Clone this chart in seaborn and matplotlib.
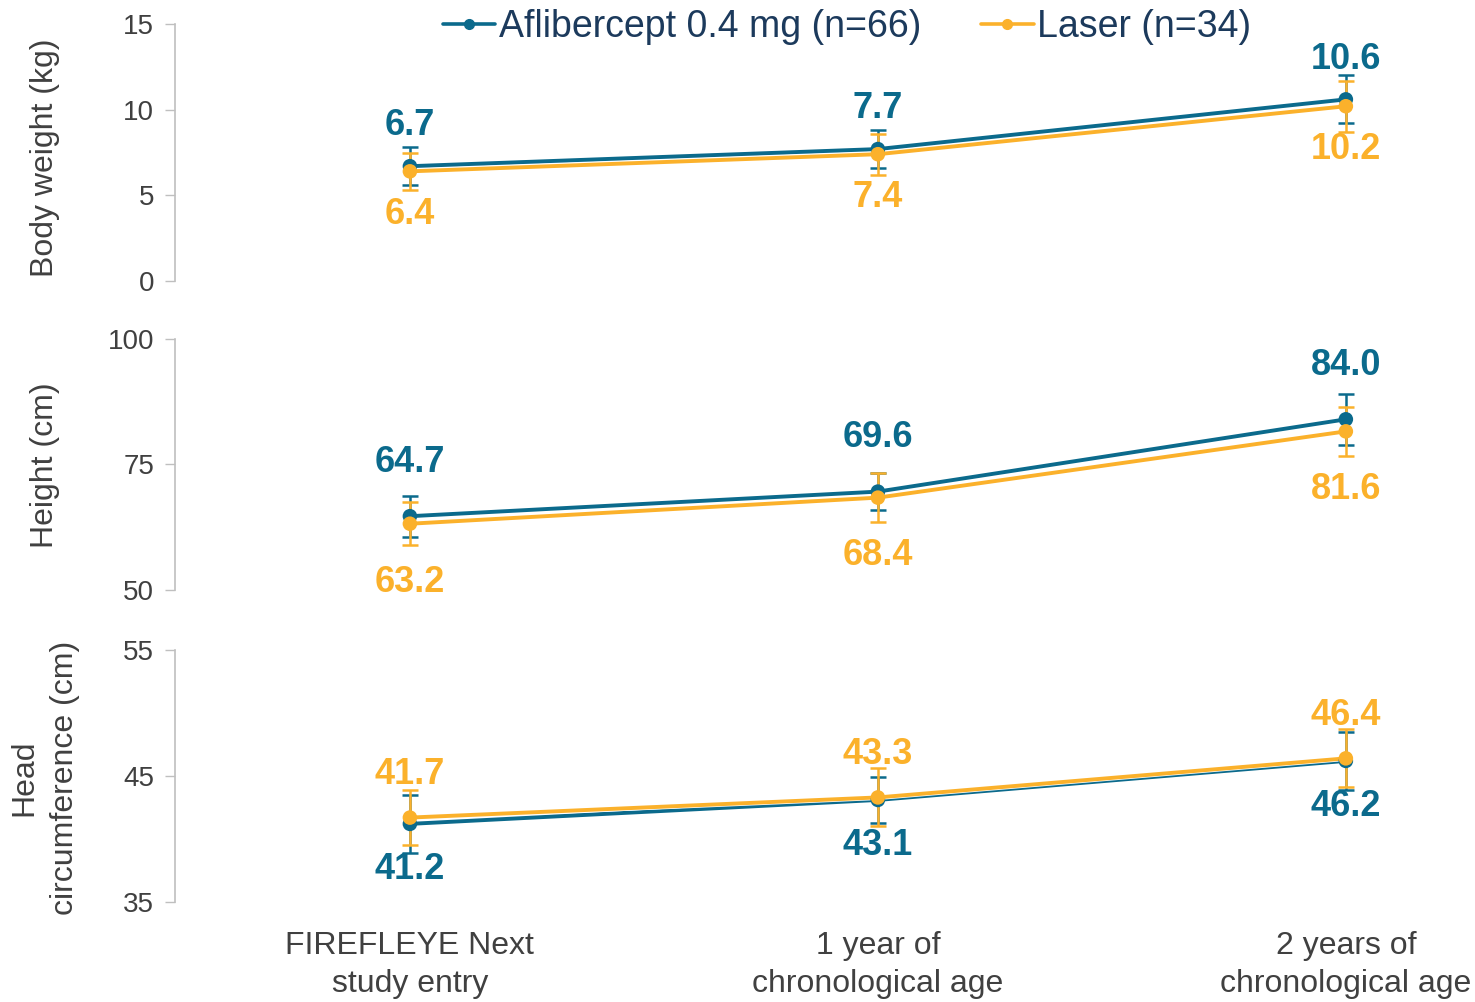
import matplotlib
matplotlib.use("Agg")
import matplotlib.pyplot as plt
import matplotlib.patheffects as pe
import seaborn as sns
import pandas as pd
import numpy as np

# Time points
timepoints = ["FIREFLEYE Next\nstudy entry", "1 year of\nchronological age", "2 years of\nchronological age"]
groups = ["Aflibercept 0.4 mg (n=66)", "Laser (n=34)"]

# Means and standard deviations per measure
weight_afl = [6.7, 7.7, 10.6]
weight_afl_sd = [1.1, 1.1, 1.4]
weight_laser = [6.4, 7.4, 10.2]
weight_laser_sd = [1.1, 1.2, 1.5]

height_afl = [64.7, 69.6, 84.0]
height_afl_sd = [4.1, 3.7, 5.1]
height_laser = [63.2, 68.4, 81.6]
height_laser_sd = [4.3, 4.9, 4.9]

head_afl = [41.2, 43.1, 46.2]
head_afl_sd = [2.3, 1.8, 2.3]
head_laser = [41.7, 43.3, 46.4]
head_laser_sd = [2.2, 2.3, 2.3]

ylabels = ["Body weight (kg)", "Height (cm)", "Head\ncircumference (cm)"]
yticks = [[0, 5, 10, 15], [50, 75, 100], [35, 45, 55]]

BLUE = "#0B6A8C"
ORANGE = "#FBB12B"
TEXT = "#404040"
LEGEND_TEXT = "#1C3A5C"

sns.set_theme(style="white")
plt.rcParams["font.family"] = ["Liberation Sans", "DejaVu Sans"]

fig = plt.figure(figsize=(14.75, 10.02), dpi=100)

left, width = 175 / 1475, 1300 / 1475
panel_boxes = [
    (1 - 281 / 1002, 257 / 1002),
    (1 - 590 / 1002, 251 / 1002),
    (1 - 902 / 1002, 252 / 1002),
]
label_y = [158, 465, 778]

measures = [
    (weight_afl, weight_afl_sd, weight_laser, weight_laser_sd),
    (height_afl, height_afl_sd, height_laser, height_laser_sd),
    (head_afl, head_afl_sd, head_laser, head_laser_sd),
]
# label offsets (points): (blue, orange); positive = above
offsets = [(29, -31), (39, -42), (-33, 31)]

x = np.arange(len(timepoints))
palette = {groups[0]: BLUE, groups[1]: ORANGE}
axes = []
for i, ((afl, afl_sd, las, las_sd), (b, h)) in enumerate(zip(measures, panel_boxes)):
    ax = fig.add_axes([left, b, width, h])
    axes.append(ax)
    df = pd.DataFrame({
        "x": np.concatenate([x, x]),
        "value": afl + las,
        "group": [groups[0]] * 3 + [groups[1]] * 3,
    })
    sns.lineplot(data=df, x="x", y="value", hue="group", palette=palette,
                 linewidth=2.8, legend=False, ax=ax, zorder=3)
    for line in ax.lines:
        line.set_path_effects([pe.Stroke(linewidth=3.8, foreground="white"), pe.Normal()])
    for vals, sds, col in [(afl, afl_sd, BLUE), (las, las_sd, ORANGE)]:
        ax.errorbar(x, vals, yerr=sds, fmt="none", ecolor=col, elinewidth=1.8,
                    capsize=6, capthick=1.8, zorder=2)
    sns.scatterplot(data=df, x="x", y="value", hue="group", palette=palette,
                    s=110, linewidth=0, legend=False, ax=ax, zorder=4)
    ob, oo = offsets[i]
    for xi, v in zip(x, afl):
        ax.annotate(f"{v:.1f}", (xi, v), xytext=(0, ob), textcoords="offset points",
                    ha="center", va="center", fontsize=26, fontweight="bold", color=BLUE)
    for xi, v in zip(x, las):
        ax.annotate(f"{v:.1f}", (xi, v), xytext=(0, oo), textcoords="offset points",
                    ha="center", va="center", fontsize=26, fontweight="bold", color=ORANGE)

    ax.set_xlim(-0.502, 2.276)
    ax.set_ylim(yticks[i][0], yticks[i][-1])
    ax.set_yticks(yticks[i])
    ax.tick_params(axis="y", direction="out", length=7, width=1, color="#BFBFBF",
                   labelsize=20, labelcolor=TEXT, pad=8, left=True)
    for s in ["top", "right", "bottom"]:
        ax.spines[s].set_visible(False)
    ax.spines["left"].set_color("#BFBFBF")
    ax.spines["left"].set_linewidth(1.2)
    ax.set_xlabel("")
    ax.set_ylabel("")
    if i < 2:
        ax.set_xticks([])
    else:
        ax.set_xticks(x)
        ax.set_xticklabels(timepoints, fontsize=23, color=TEXT, linespacing=1.35)
        ax.tick_params(axis="x", length=0, pad=21)
    fig.text(45 / 1475, 1 - label_y[i] / 1002, ylabels[i], rotation=90, ha="center",
             va="center", fontsize=23, color=TEXT, multialignment="center",
             linespacing=1.45)

handles = [
    plt.Line2D([], [], color=BLUE, marker="o", markersize=7, linewidth=2.6),
    plt.Line2D([], [], color=ORANGE, marker="o", markersize=7, linewidth=2.6),
]
leg = fig.legend(handles, groups, loc="center", bbox_to_anchor=(847 / 1475, 1 - 27 / 1002),
                 ncol=2, frameon=False, fontsize=27, handlelength=1.4, handletextpad=0.1,
                 columnspacing=1.6, borderpad=0)
for t in leg.get_texts():
    t.set_color(LEGEND_TEXT)

fig.savefig("out.png", dpi=100)
